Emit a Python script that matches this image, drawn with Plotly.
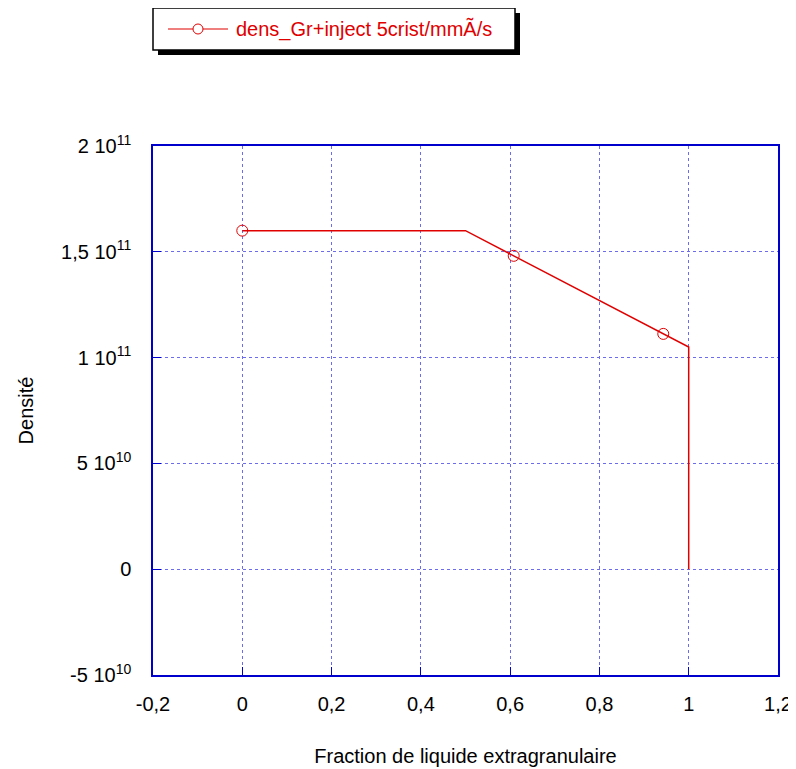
import plotly.graph_objects as go

# Data
x_line = [0.0, 0.5, 0.608, 0.943, 1.0, 1.0]
y_line = [1.6e11, 1.6e11, 1.481e11, 1.112e11, 1.05e11, 0.0]
x_marks = [0.0, 0.608, 0.943]
y_marks = [1.6e11, 1.481e11, 1.112e11]
series_name = "dens_Gr+inject 5crist/mmÃ/s"

x_ticks = [-0.2, 0, 0.2, 0.4, 0.6, 0.8, 1.0, 1.2]
x_ticktext = ["-0,2", "0", "0,2", "0,4", "0,6", "0,8", "1", "1,2"]
y_ticks = [-5e10, 0, 5e10, 1e11, 1.5e11, 2e11]
y_ticktext = ["-5 10<sup>10</sup>", "0", "5 10<sup>10</sup>", "1 10<sup>11</sup>",
              "1,5 10<sup>11</sup>", "2 10<sup>11</sup>"]

RED = "#e00000"
BLUE = "#0000cc"
GRID = "#6c6cec"
FONT = "Liberation Sans, Arial, sans-serif"
FS = 20

fig = go.Figure()
fig.add_trace(go.Scatter(x=x_line, y=y_line, mode="lines", name=series_name,
                         line=dict(color=RED, width=1.5), showlegend=False))
fig.add_trace(go.Scatter(x=x_marks, y=y_marks, mode="markers", name=series_name,
                         marker=dict(symbol="circle-open", size=11, color=RED,
                                     line=dict(width=1)),
                         showlegend=False))

# The page body adds an 8px offset; compensate in the margins.
OFF = 8
W, H = 796, 769
PL, PT, PR, PB = 153, 146, 778, 675   # plot area in window pixels
pw, ph = PR - PL, PB - PT
L, T = PL - OFF, PT - OFF
R, B = W - L - pw, H - T - ph

def px_x(px):
    return (px - PL) / pw

def px_y(py):
    return (PB - py) / ph

# Legend box drawn by hand (with its drop shadow) to match the reference
fig.add_shape(type="rect", xref="paper", yref="paper",
              x0=px_x(153), x1=px_x(515), y0=px_y(50), y1=px_y(8),
              fillcolor="white", line=dict(color="black", width=1.5), layer="below")
# drop shadow as two thick black bands (right and bottom)
fig.add_shape(type="line", xref="paper", yref="paper",
              x0=px_x(517.5), x1=px_x(517.5), y0=px_y(13), y1=px_y(55),
              line=dict(color="black", width=5), layer="below")
fig.add_shape(type="line", xref="paper", yref="paper",
              x0=px_x(158), x1=px_x(520), y0=px_y(52.5), y1=px_y(52.5),
              line=dict(color="black", width=5), layer="below")
fig.add_shape(type="line", xref="paper", yref="paper",
              x0=px_x(168), x1=px_x(228), y0=px_y(29), y1=px_y(29),
              line=dict(color=RED, width=1.2), layer="below")
fig.add_shape(type="circle", xref="paper", yref="paper",
              x0=px_x(193), x1=px_x(203), y0=px_y(34), y1=px_y(24),
              fillcolor="white", line=dict(color=RED, width=1), layer="below")
fig.add_annotation(xref="paper", yref="paper", x=px_x(234), y=px_y(29),
                   xanchor="left", yanchor="middle", showarrow=False,
                   text=series_name, font=dict(family=FONT, size=FS, color=RED))

axis_common = dict(showline=True, linecolor=BLUE, linewidth=1.5, mirror=True,
                   showgrid=True, gridcolor=GRID, gridwidth=1.2, griddash="dot",
                   zeroline=False, ticks="inside", ticklen=8, tickcolor=BLUE,
                   automargin=False,
                   tickfont=dict(family=FONT, size=FS, color="black"))

fig.update_layout(
    width=W, height=H,
    margin=dict(l=L, r=R, t=T, b=B, autoexpand=False),
    paper_bgcolor="white", plot_bgcolor="white",
    font=dict(family=FONT, color="black"),
    showlegend=False,
    xaxis=dict(range=[-0.2, 1.2], tickvals=x_ticks, ticktext=x_ticktext,
               ticklabelstandoff=10,
               title=dict(text="Fraction de liquide extragranulaire",
                          font=dict(family=FONT, size=FS), standoff=35),
               **axis_common),
    yaxis=dict(range=[-5e10, 2e11], tickvals=y_ticks, ticktext=y_ticktext,
               ticklabelstandoff=16,
               title=dict(text="Densité", font=dict(family=FONT, size=FS), standoff=22),
               **axis_common),
)

fig.write_html("out.html")
